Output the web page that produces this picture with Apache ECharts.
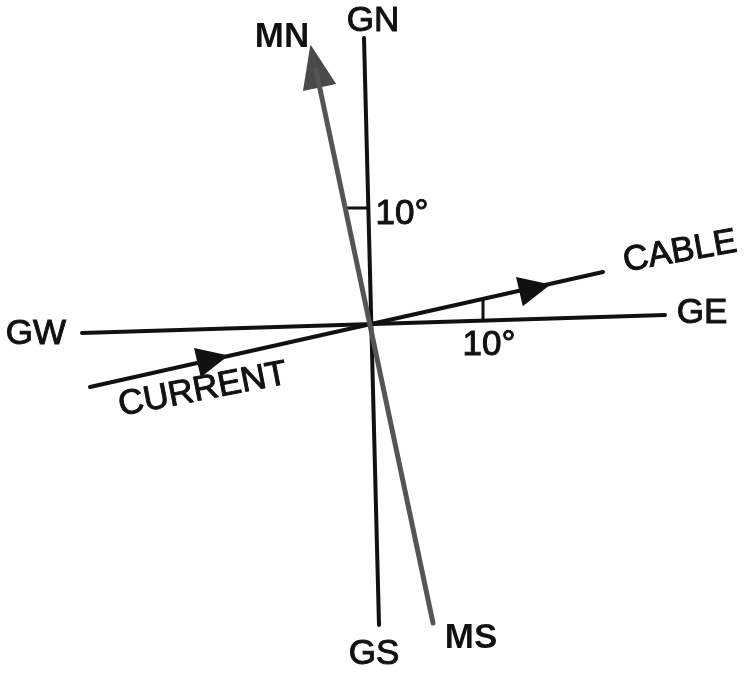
<!DOCTYPE html>
<html>
<head>
<meta charset="utf-8">
<script src="https://cdn.jsdelivr.net/npm/echarts@6/dist/echarts.min.js"></script>
<style>
    html, body { margin: 0; padding: 0; background: #fff; }
    #chart { width: 744px; height: 674px; }
</style>
</head>
<body>
<div id="chart"></div>
<script>
// 各条直线的端点 (画面坐标, y 向下)
const geoNS = [[364, 38], [379, 625]];
const magNS = [[316, 70], [433, 623]];
const geoWE = [[82, 333], [665, 315]];
const cableLine = [[90, 387], [603, 272]];
// 两处 10° 角的小标记
const angleMarkTop = [[346, 208], [368, 208]];
const angleMarkBottom = [[483, 299], [483, 320]];
// 箭头位置及方向(度)
const arrowPoints = [[315, 66], [535, 288], [213, 359]];
const arrowAngles = [12, -77, -77];
// 文字标签
const labelTexts = ['MN', 'GN', 'GW', 'GE', 'CABLE', 'CURRENT', '10°', '10°', 'GS', 'MS'];
const labelPoints = [[282, 37], [373, 21], [36, 334], [702, 313], [680, 252], [203, 390], [402, 214], [489, 345], [374, 654], [471, 638]];
const labelAngles = [0, 0, 0, 0, 10, 11, 0, 0, 0, 0];

document.addEventListener('DOMContentLoaded', function () {
    const chartDom = document.getElementById('chart');
    const myChart = echarts.init(chartDom, null, { renderer: 'canvas' });

    const black = '#111';
    const grey = '#555';

    function seg(pts, color, width) {
        return {
            type: 'line',
            data: pts,
            symbol: 'none',
            silent: true,
            animation: false,
            lineStyle: { color: color, width: width, cap: 'round', opacity: 1 }
        };
    }

    const boldSet = { 'MN': true, 'MS': true };

    const option = {
        backgroundColor: '#fff',
        animation: false,
        grid: { left: 0, right: 0, top: 0, bottom: 0 },
        xAxis: { type: 'value', min: 0, max: 744, show: false },
        yAxis: { type: 'value', min: 0, max: 674, inverse: true, show: false },
        series: [
            seg(geoNS, black, 4),
            seg(geoWE, black, 4),
            seg(cableLine, black, 4),
            seg(angleMarkTop, black, 3),
            seg(angleMarkBottom, black, 3),
            seg(magNS, grey, 5),
            {
                type: 'scatter',
                silent: true,
                animation: false,
                symbol: 'triangle',
                itemStyle: { opacity: 1 },
                data: arrowPoints.map(function (p, i) {
                    return {
                        value: p,
                        symbolRotate: arrowAngles[i],
                        symbolSize: i === 0 ? [34, 44] : [30, 32],
                        itemStyle: { color: i === 0 ? '#4a4a4a' : black, opacity: 1 }
                    };
                })
            },
            {
                type: 'scatter',
                silent: true,
                animation: false,
                symbolSize: 0,
                itemStyle: { opacity: 1 },
                data: labelTexts.map(function (t, i) {
                    return {
                        value: labelPoints[i],
                        label: {
                            show: true,
                            position: 'inside',
                            formatter: t,
                            rotate: labelAngles[i],
                            color: black,
                            opacity: 1,
                            fontFamily: 'Liberation Sans',
                            fontSize: 35,
                            fontWeight: boldSet[t] ? 'bold' : 'normal',
                            textBorderColor: black,
                            textBorderWidth: boldSet[t] ? 0 : 1
                        }
                    };
                })
            }
        ]
    };

    myChart.setOption(option);

    window.addEventListener('resize', function () {
        myChart.resize();
    });
});
</script>
</body>
</html>
